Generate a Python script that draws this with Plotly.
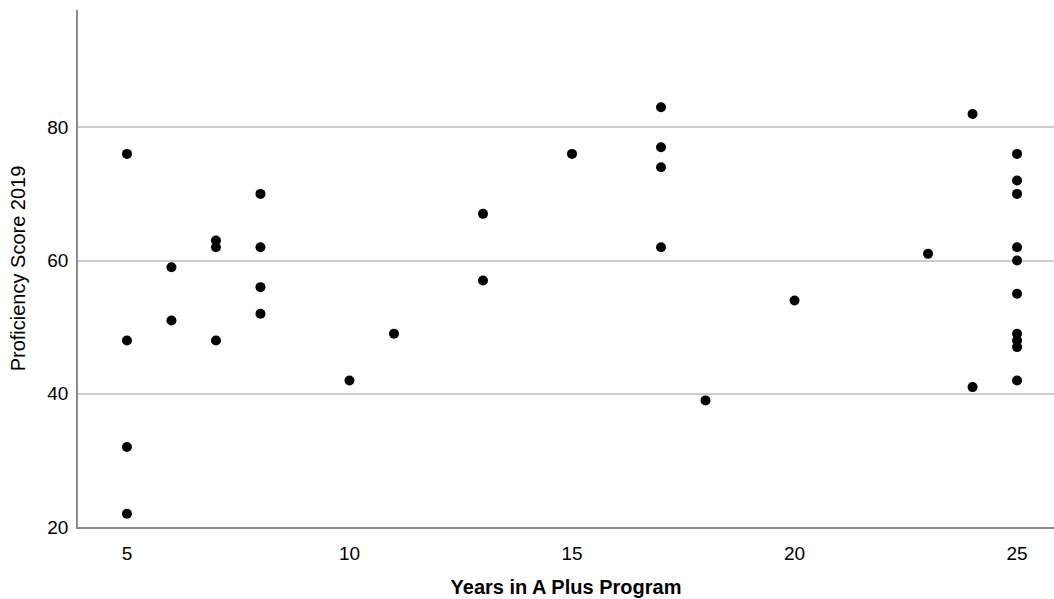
import plotly.graph_objects as go

years = [5, 5, 5, 5,
         6, 6,
         7, 7, 7,
         8, 8, 8, 8,
         10, 11, 13, 13, 15,
         17, 17, 17, 17,
         18, 20, 23, 24, 24,
         25, 25, 25, 25, 25, 25, 25, 25, 25, 25]
scores = [76, 48, 32, 22,
          59, 51,
          63, 62, 48,
          70, 62, 56, 52,
          42, 49, 67, 57, 76,
          83, 77, 74, 62,
          39, 54, 61, 82, 41,
          76, 72, 70, 62, 60, 55, 49, 48, 47, 42]

x_ticks = [5, 10, 15, 20, 25]
y_ticks = [20, 40, 60, 80]

fig = go.Figure(go.Scatter(
    x=years, y=scores, mode="markers",
    marker=dict(color="black", size=10),
    hoverinfo="x+y",
))

family = "Liberation Sans, Arial, sans-serif"
font = dict(family=family, size=19, color="black")
xtitle_font = dict(family=family, size=20, color="black", weight="bold")
ytitle_font = dict(family=family, size=20, color="black")

fig.update_layout(
    width=1054, height=599,
    margin=dict(l=78, r=0, t=10, b=72, autoexpand=False),
    paper_bgcolor="white", plot_bgcolor="white",
    showlegend=False,
    font=font,
    xaxis=dict(
        range=[3.9, 25.83], tickvals=x_ticks, showgrid=False, zeroline=False,
        showline=True, linecolor="#8c8c8c", linewidth=1.5,
        ticks="outside", ticklen=8, tickcolor="rgba(0,0,0,0)",
        title=dict(text="Years in A Plus Program", font=xtitle_font, standoff=17),
        tickfont=font, automargin=False,
    ),
    yaxis=dict(
        range=[20, 97.6], tickvals=y_ticks, showgrid=True, gridcolor="#cccccc",
        gridwidth=1.5, zeroline=False,
        showline=True, linecolor="#8c8c8c", linewidth=1.5,
        ticks="outside", ticklen=4, tickcolor="rgba(0,0,0,0)",
        title=dict(text="Proficiency Score 2019", font=ytitle_font, standoff=16),
        tickfont=font, automargin=False,
    ),
)

fig.write_html("out.html", config={"displayModeBar": False},
               post_script="document.body.style.margin='0';document.body.style.overflow='hidden';")
